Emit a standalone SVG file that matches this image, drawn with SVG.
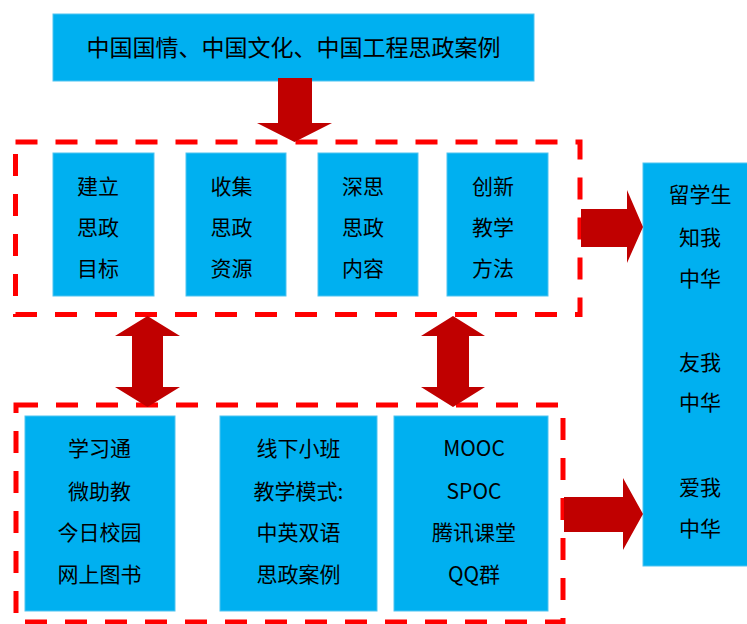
<svg xmlns="http://www.w3.org/2000/svg" width="747" height="624" viewBox="0 0 747 624">
<style>
.box{fill:#00B0F0;stroke:#4fc3f0;stroke-width:1}
.t{font-family:"Noto Sans CJK SC","Noto Sans",sans-serif;font-size:21px;fill:#000;text-anchor:middle}
.dash{fill:none;stroke:#FF0000;stroke-width:5;stroke-dasharray:22 18}
.arr{fill:#C00000}
</style>
<rect width="747" height="624" fill="#fff"/>
<g id="frames">
<rect class="dash" x="15.5" y="142" width="564.5" height="172.5"/>
<rect class="dash" x="16" y="405" width="547" height="217"/>
</g>
<g id="top-source">
<rect class="box" x="53" y="14" width="481" height="67"/>
<text class="t" style="font-size:23px" x="293.5" y="56">中国国情、中国文化、中国工程思政案例</text>
</g>
<g id="goal">
<rect class="box" x="53" y="153" width="101" height="143"/>
<text class="t" x="98" y="194">建立</text><text class="t" x="98" y="235">思政</text><text class="t" x="98" y="276">目标</text>
</g>
<g id="resource">
<rect class="box" x="186" y="153" width="100" height="143"/>
<text class="t" x="231.5" y="194">收集</text><text class="t" x="231.5" y="235">思政</text><text class="t" x="231.5" y="276">资源</text>
</g>
<g id="content">
<rect class="box" x="318" y="153" width="100" height="143"/>
<text class="t" x="363" y="194">深思</text><text class="t" x="363" y="235">思政</text><text class="t" x="363" y="276">内容</text>
</g>
<g id="method">
<rect class="box" x="447" y="153" width="101" height="143"/>
<text class="t" x="493" y="194">创新</text><text class="t" x="493" y="235">教学</text><text class="t" x="493" y="276">方法</text>
</g>
<g id="platform1">
<rect class="box" x="25" y="416" width="150" height="195"/>
<text class="t" x="99.5" y="456">学习通</text><text class="t" x="99.5" y="499">微助教</text><text class="t" x="99.5" y="540">今日校园</text><text class="t" x="99.5" y="582">网上图书</text>
</g>
<g id="platform2">
<rect class="box" x="220" y="416" width="157" height="195"/>
<text class="t" x="298.5" y="456">线下小班</text><text class="t" x="298.5" y="499">教学模式:</text><text class="t" x="298.5" y="540">中英双语</text><text class="t" x="298.5" y="582">思政案例</text>
</g>
<g id="platform3">
<rect class="box" x="394" y="416" width="154" height="195"/>
<text class="t" x="474" y="456">MOOC</text><text class="t" x="474" y="499">SPOC</text><text class="t" x="474" y="540">腾讯课堂</text><text class="t" x="474" y="582">QQ群</text>
</g>
<g id="outcome">
<rect class="box" x="643" y="163" width="110" height="403"/>
<text class="t" x="700" y="202">留学生</text><text class="t" x="700" y="245">知我</text><text class="t" x="700" y="286">中华</text>
<text class="t" x="700" y="370">友我</text><text class="t" x="700" y="410">中华</text>
<text class="t" x="700" y="495">爱我</text><text class="t" x="700" y="536">中华</text>
</g>
<g id="connectors">
<polygon class="arr" points="278,78 312,78 312,123 332,123 294.5,142 257,123 278,123"/>
<polygon class="arr" points="147.5,316 180,336 163,336 163,387 180,387 147.5,407 115,387 132,387 132,336 115,336"/>
<polygon class="arr" points="453,316 485,336 469,336 469,387 485,387 453,407 421,387 437,387 437,336 421,336"/>
<polygon class="arr" points="581,209 627,209 627,190 643,227 627,263 627,247 581,247"/>
<polygon class="arr" points="564,497 623,497 623,478 643,514 623,550 623,532 564,532"/>
</g>
</svg>
